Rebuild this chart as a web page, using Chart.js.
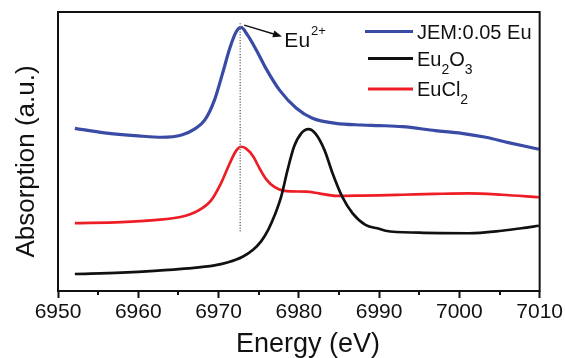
<!DOCTYPE html>
<html>
<head>
<meta charset="utf-8">
<script src="https://cdn.jsdelivr.net/npm/chart.js@4.4.1/dist/chart.umd.min.js"></script>
<style>
  html, body { margin: 0; padding: 0; background: #fff; }
  #wrap { width: 565px; height: 358px; position: relative; }
</style>
</head>
<body>
<div id="wrap"><canvas id="grafico"></canvas></div>
<script>
// XANES Eu L3-edge spectra, absorption in arbitrary units (offset for display)
const seriesNames = ['JEM:0.05 Eu', 'Eu₂O₃', 'EuCl₂'];
const seriesColors = ['#3a4ba6', '#111111', '#ee1d25'];

const jemEnergy = [6952.1, 6955.8, 6960.0, 6962.9, 6965.4, 6967.0, 6968.3, 6969.5, 6970.5, 6971.4, 6972.2, 6972.8, 6973.6, 6974.7, 6975.9, 6977.6, 6979.7, 6981.7, 6984.6, 6987.9, 6990.0, 6992.9, 6997.0, 7000.3, 7003.3, 7006.1, 7009.9];
const jemAbs = [58.3, 56.7, 55.6, 55.1, 55.9, 58.0, 61.3, 68.5, 78.0, 87.0, 92.9, 94.5, 91.8, 86.4, 79.8, 72.0, 65.5, 61.9, 60.1, 59.5, 59.3, 58.9, 57.5, 56.5, 55.1, 53.2, 50.8];

const eu2o3Energy = [6952.1, 6957.9, 6962.0, 6966.2, 6969.5, 6971.2, 6973.0, 6974.3, 6975.3, 6976.2, 6977.0, 6977.8, 6978.6, 6979.4, 6980.3, 6981.2, 6982.1, 6983.2, 6984.2, 6985.4, 6986.7, 6988.3, 6990.0, 6990.8, 6995.0, 7001.2, 7005.3, 7007.8, 7009.9];
const eu2o3Abs = [6.1, 6.6, 7.2, 8.1, 9.2, 10.3, 12.3, 14.8, 17.8, 22.0, 27.2, 33.8, 43.4, 51.7, 56.5, 58.0, 56.3, 50.5, 42.2, 33.8, 27.8, 23.7, 22.3, 21.6, 20.9, 20.7, 21.6, 22.5, 23.4];

const euclEnergy = [6952.1, 6957.9, 6962.0, 6965.4, 6967.4, 6969.1, 6970.3, 6971.4, 6972.2, 6972.8, 6973.4, 6974.3, 6975.1, 6975.9, 6977.0, 6978.2, 6980.9, 6982.5, 6984.6, 6987.9, 6990.0, 6992.9, 6997.0, 7001.2, 7005.3, 7009.9];
const euclAbs = [24.3, 24.7, 25.4, 26.6, 28.7, 32.6, 38.6, 45.8, 50.3, 51.7, 51.1, 48.3, 44.0, 40.2, 37.2, 35.9, 35.6, 35.0, 34.1, 34.2, 34.3, 34.5, 34.8, 35.0, 34.5, 33.6];

const energyTicks = [6950, 6960, 6970, 6980, 6990, 7000, 7010];
const minorTicks = [6955, 6965, 6975, 6985, 6995, 7005];

// Eu2+ white line marker
const eu2Energy = 6972.7;
const eu2Range = [20.7, 96.0];
const arrowFrom = [6973.2, 95.3];
const arrowTo = [6977.9, 91.2];
const eu2Label = [6978.2, 87.6];

const FONT = '"Liberation Sans", Arial, sans-serif';

function puntos(xs, ys) {
  return xs.map((x, i) => ({ x: x, y: ys[i] }));
}

// text with unicode subscript digits drawn as small lowered digits
const SUBS = '₀₁₂₃₄₅₆₇₈₉';
function textoConSub(ctx, txt, x, y, size) {
  for (const ch of txt) {
    const k = SUBS.indexOf(ch);
    if (k >= 0) {
      ctx.font = `${Math.round(size * 0.68)}px ${FONT}`;
      ctx.fillText(String(k), x, y + size * 0.4);
      x += ctx.measureText(String(k)).width;
    } else {
      ctx.font = `${size}px ${FONT}`;
      ctx.fillText(ch, x, y);
      x += ctx.measureText(ch).width;
    }
  }
}

const decoracion = {
  id: 'decoracion',
  afterDatasetsDraw(chart) {
    const { ctx, scales: { x, y } } = chart;
    ctx.save();

    // dotted line at the Eu2+ peak
    const px = x.getPixelForValue(eu2Energy);
    ctx.strokeStyle = '#777';
    ctx.lineWidth = 1.5;
    ctx.setLineDash([1.2, 1.6]);
    ctx.beginPath();
    ctx.moveTo(px, y.getPixelForValue(eu2Range[1]));
    ctx.lineTo(px, y.getPixelForValue(eu2Range[0]));
    ctx.stroke();
    ctx.setLineDash([]);

    // arrow
    const x0 = x.getPixelForValue(arrowFrom[0]), y0 = y.getPixelForValue(arrowFrom[1]);
    const x1 = x.getPixelForValue(arrowTo[0]), y1 = y.getPixelForValue(arrowTo[1]);
    const ang = Math.atan2(y1 - y0, x1 - x0);
    ctx.strokeStyle = '#111';
    ctx.fillStyle = '#111';
    ctx.lineWidth = 1.5;
    ctx.beginPath();
    ctx.moveTo(x0, y0);
    ctx.lineTo(x1 - 6 * Math.cos(ang), y1 - 6 * Math.sin(ang));
    ctx.stroke();
    ctx.beginPath();
    ctx.moveTo(x1, y1);
    ctx.lineTo(x1 - 9 * Math.cos(ang) + 3.5 * Math.sin(ang), y1 - 9 * Math.sin(ang) - 3.5 * Math.cos(ang));
    ctx.lineTo(x1 - 9 * Math.cos(ang) - 3.5 * Math.sin(ang), y1 - 9 * Math.sin(ang) + 3.5 * Math.cos(ang));
    ctx.closePath();
    ctx.fill();

    // Eu2+ label
    const lx = x.getPixelForValue(eu2Label[0]), ly = y.getPixelForValue(eu2Label[1]);
    ctx.textAlign = 'left';
    ctx.textBaseline = 'alphabetic';
    ctx.font = `21px ${FONT}`;
    ctx.fillText('Eu', lx, ly);
    const w = ctx.measureText('Eu').width;
    ctx.font = `13px ${FONT}`;
    ctx.fillText('2+', lx + w + 1, ly - 12);

    // legend
    const filas = [31.5, 58.5, 89];
    chart.data.datasets.forEach((ds, i) => {
      const fy = filas[i];
      ctx.strokeStyle = ds.borderColor;
      ctx.lineWidth = 3;
      ctx.beginPath();
      ctx.moveTo(i === 0 ? 365 : 368, fy);
      ctx.lineTo(413, fy);
      ctx.stroke();
      ctx.fillStyle = '#111';
      textoConSub(ctx, ds.label, 417, fy + 7, 20);
    });
    ctx.restore();
  },
  afterDraw(chart) {
    const { ctx, chartArea: a, scales: { x } } = chart;
    ctx.save();
    // frame
    ctx.strokeStyle = '#111';
    ctx.lineWidth = 2;
    ctx.strokeRect(a.left, a.top, a.right - a.left, a.bottom - a.top);

    // minor ticks
    minorTicks.forEach(v => {
      const px = Math.round(x.getPixelForValue(v));
      ctx.beginPath();
      ctx.moveTo(px, a.bottom);
      ctx.lineTo(px, a.bottom + 4);
      ctx.stroke();
    });

    // axis titles
    ctx.fillStyle = '#111';
    ctx.textAlign = 'center';
    ctx.textBaseline = 'alphabetic';
    ctx.font = `27px ${FONT}`;
    ctx.fillText('Energy (eV)', 308, 352);

    ctx.translate(27, 161.5);
    ctx.rotate(-Math.PI / 2);
    ctx.textBaseline = 'middle';
    ctx.font = `26px ${FONT}`;
    ctx.fillText('Absorption (a.u.)', 0, 0);
    ctx.restore();
  }
};

const energias = [jemEnergy, eu2o3Energy, euclEnergy];
const absorciones = [jemAbs, eu2o3Abs, euclAbs];
const anchos = [3.2, 2.7, 2.7];

new Chart(document.getElementById('grafico').getContext('2d'), {
  type: 'line',
  data: {
    datasets: seriesNames.map((n, i) => ({
      label: n,
      data: puntos(energias[i], absorciones[i]),
      borderColor: seriesColors[i],
      borderWidth: anchos[i],
      pointRadius: 0,
      cubicInterpolationMode: 'monotone',
      fill: false
    }))
  },
  options: {
    responsive: true,
    maintainAspectRatio: false,
    animation: false,
    layout: { padding: { left: 58, top: 12, right: 24, bottom: 0 } },
    plugins: {
      legend: { display: false },
      tooltip: { enabled: false }
    },
    scales: {
      x: {
        type: 'linear',
        min: 6950,
        max: 7010,
        afterBuildTicks: (scale) => { scale.ticks = energyTicks.map(v => ({ value: v })); },
        afterFit: (scale) => { scale.height = 67; },
        border: { display: false },
        grid: {
          drawOnChartArea: false,
          drawTicks: true,
          tickLength: 7,
          tickWidth: 2,
          tickColor: '#111',
          color: '#111'
        },
        ticks: {
          color: '#111',
          padding: 2,
          maxRotation: 0,
          font: { family: FONT, size: 21 },
          callback: (v) => String(v)
        }
      },
      y: {
        display: false,
        min: 0,
        max: 100
      }
    }
  },
  plugins: [decoracion]
});
</script>
</body>
</html>
